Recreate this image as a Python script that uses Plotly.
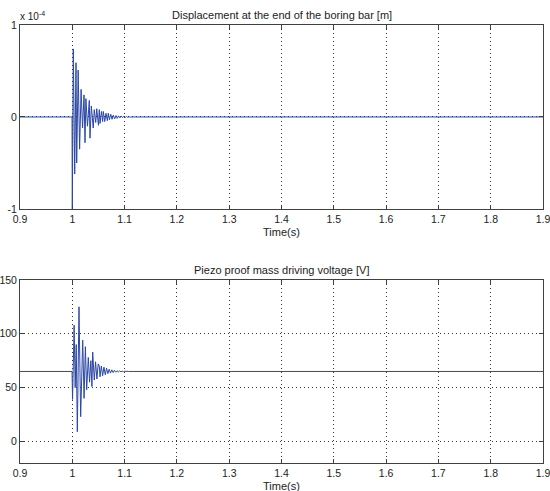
import plotly.graph_objects as go

# ---- data ----
# Displacement (units of 1e-4 m)
disp_t = [0.9, 0.9995, 1.0000, 1.0019, 1.0046, 1.0071, 1.0084, 1.0112, 1.0140, 1.0168, 1.0196,
          1.0224, 1.0243, 1.0260, 1.0290, 1.0325, 1.0338, 1.0364, 1.0400, 1.0420, 1.0448,
          1.0467, 1.0500, 1.0516, 1.0530, 1.0558, 1.0580, 1.0593, 1.0620, 1.0645, 1.0670,
          1.0688, 1.0710, 1.0735, 1.0760, 1.0785, 1.0810, 1.0835, 1.0860, 1.0885, 1.0910,
          1.0935, 1.0960, 1.0985, 1.1010, 1.1035, 1.1060, 1.1085, 1.1110, 1.1135, 1.1160, 1.9]
disp_v = [0.0, 0.0, -1.05, 0.74, -0.62, 0.59, -0.50, 0.51, -0.35, 0.30, -0.12,
          0.24, -0.28, 0.20, -0.10, 0.18, -0.23, 0.12, -0.12, 0.08, -0.06,
          0.09, -0.09, 0.08, -0.07, 0.06, -0.05, 0.06, -0.05, 0.04, -0.04,
          0.04, -0.03, 0.03, -0.025, 0.02, -0.02, 0.015, -0.015, 0.012, -0.01,
          0.01, -0.008, 0.008, -0.006, 0.005, -0.004, 0.003, -0.002, 0.002, 0.0, 0.0]

# Voltage (V)
volt_t = [0.9, 0.9995, 1.0005, 1.0035, 1.0055, 1.0075, 1.0096, 1.0128, 1.0160, 1.0199, 1.0225,
          1.0250, 1.0275, 1.0306, 1.0330, 1.0355, 1.0375, 1.0390, 1.0420, 1.0445, 1.0470,
          1.0495, 1.0516, 1.0530, 1.0555, 1.0580, 1.0605, 1.0630, 1.0655, 1.0680, 1.0705,
          1.0730, 1.0755, 1.0780, 1.0805, 1.0830, 1.0855, 1.0880, 1.0905, 1.0930, 1.0955,
          1.0980, 1.1005, 1.1030, 1.1055, 1.1080, 1.9]
volt_v = [65, 65, 39, 108, 50, 90, 9, 125, 23, 94, 40,
          88, 48, 78, 55, 75, 51, 83, 57, 74, 58,
          72, 70, 60, 70, 61, 69, 62, 68, 63, 67,
          63.5, 66.5, 64, 66, 64.3, 65.7, 64.5, 65.5, 64.7, 65.3,
          64.8, 65.2, 64.9, 65.1, 65, 65]

x_ticks = [0.9, 1.0, 1.1, 1.2, 1.3, 1.4, 1.5, 1.6, 1.7, 1.8, 1.9]
x_labels = ["0.9", "1", "1.1", "1.2", "1.3", "1.4", "1.5", "1.6", "1.7", "1.8", "1.9"]
disp_ticks = [-1, 0, 1]
volt_ticks = [0, 50, 100, 150]

title_top = "Displacement at the end of the boring bar [m]"
title_bot = "Piezo proof mass driving voltage [V]"
x_title = "Time(s)"

line_color = "#2b47a6"
font = "Liberation Sans, Arial, sans-serif"

fig = go.Figure()
fig.add_trace(go.Scatter(x=disp_t, y=disp_v, mode="lines", xaxis="x", yaxis="y",
                         line=dict(color=line_color, width=1), showlegend=False))
fig.add_trace(go.Scatter(x=volt_t, y=volt_v, mode="lines", xaxis="x2", yaxis="y2",
                         line=dict(color=line_color, width=1), showlegend=False))

ax_common = dict(showline=True, linecolor="#404040", linewidth=1, mirror="allticks",
                 ticks="inside", ticklen=4, tickcolor="#404040", automargin=False,
                 ticklabeloverflow="allow", ticklabelstandoff=0,
                 showgrid=True, gridcolor="#333333", griddash="1px,3px", gridwidth=1,
                 zeroline=False, tickfont=dict(family=font, size=10.5, color="#222222"))

fig.update_layout(
    width=550, height=491,
    margin=dict(l=20, r=7, t=25, b=28),
    paper_bgcolor="white", plot_bgcolor="white",
    font=dict(family=font, size=11, color="#222222"),
    xaxis=dict(domain=[0, 1], anchor="y", range=[0.9, 1.9], tickvals=x_ticks, ticktext=x_labels,
               **ax_common),
    yaxis=dict(domain=[0.58, 1], anchor="x", range=[-1, 1], tickvals=disp_ticks,
               ticktext=["-1", "0", "1"], **ax_common),
    xaxis2=dict(domain=[0, 1], anchor="y2", range=[0.9, 1.9], tickvals=x_ticks, ticktext=x_labels,
                **ax_common),
    yaxis2=dict(domain=[0, 0.418], anchor="x2", range=[-20, 150], tickvals=volt_ticks,
                ticktext=[str(v) for v in volt_ticks], **ax_common),
    annotations=[
        dict(text=title_top, x=0.5, y=1.0, xref="paper", yref="paper", xanchor="center",
             yanchor="bottom", yshift=2, showarrow=False, font=dict(size=11)),
        dict(text=title_bot, x=0.5, y=0.418, xref="paper", yref="paper", xanchor="center",
             yanchor="bottom", yshift=2, showarrow=False, font=dict(size=11)),
        dict(text=x_title, x=0.5, y=0.58, xref="paper", yref="paper", xanchor="center",
             yanchor="top", yshift=-15, showarrow=False, font=dict(size=11)),
        dict(text=x_title, x=0.5, y=0.0, xref="paper", yref="paper", xanchor="center",
             yanchor="top", yshift=-15, showarrow=False, font=dict(size=11)),
        dict(text="x 10<sup>-4</sup>", x=0, y=1.0, xref="paper", yref="paper", xanchor="left",
             yanchor="bottom", yshift=1, xshift=-2, showarrow=False, font=dict(size=10)),
    ],
)

fig.write_html("out.html", config={"displayModeBar": False},
               post_script="document.body.style.margin='0';document.body.style.overflow='hidden';")
